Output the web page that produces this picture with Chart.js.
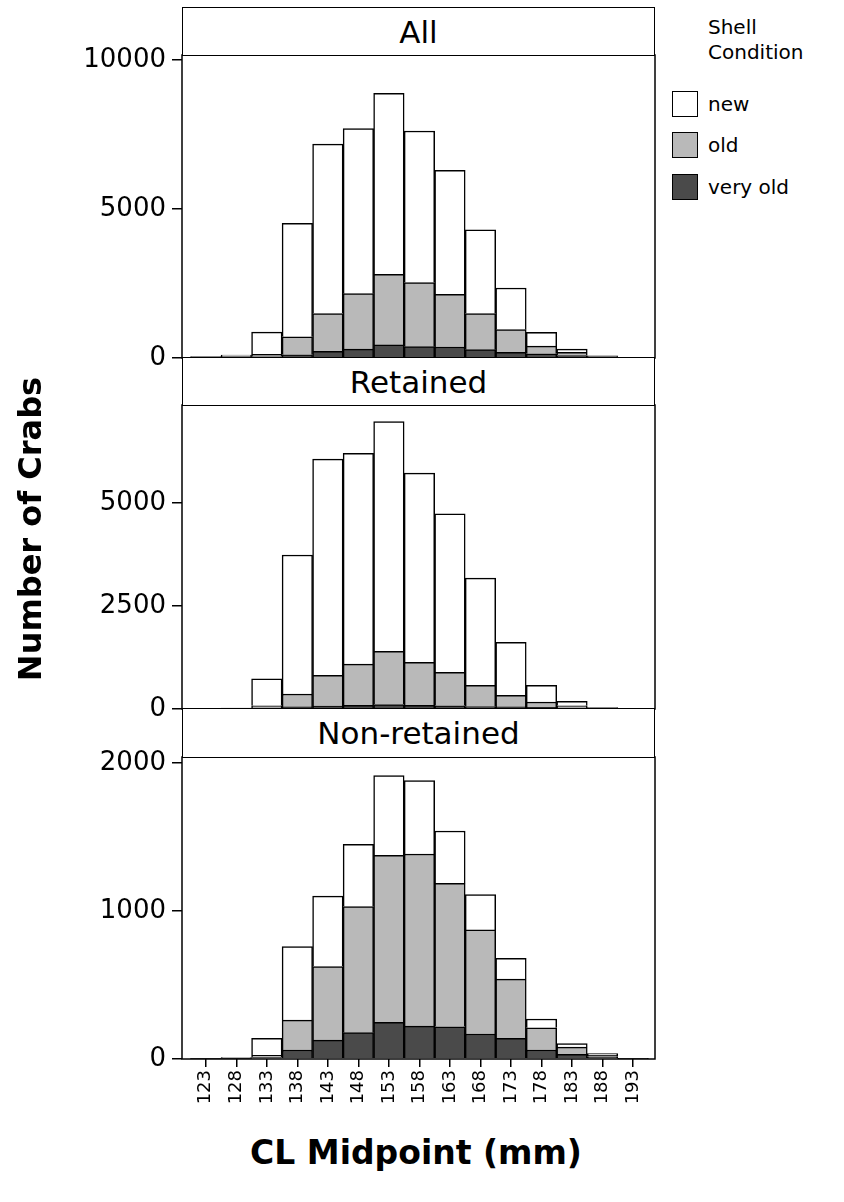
<!DOCTYPE html>
<html>
<head>
<meta charset="utf-8">
<script src="https://cdn.jsdelivr.net/npm/chart.js@4.4.1/dist/chart.umd.min.js"></script>
<style>
  body { margin: 0; background: #fff; }
  #page { position: relative; width: 844px; height: 1202px; overflow: hidden; font-family: "DejaVu Sans", sans-serif; color: #000; }
  canvas { position: absolute; }
  .strip { position: absolute; left: 182px; width: 473px; box-sizing: border-box; border: 1.5px solid #000;
           background: #fff; display: flex; align-items: center; justify-content: center; font-size: 31px; z-index: 2; }
  .ytitle { position: absolute; left: 30px; top: 529px; transform: translate(-50%, -50%) rotate(-90deg);
            font-weight: bold; font-size: 32px; white-space: nowrap; }
  .xtitle { position: absolute; left: 416px; top: 1152px; transform: translate(-50%, -50%);
            font-weight: bold; font-size: 33px; white-space: nowrap; }
  .legend { position: absolute; left: 672px; top: 15px; font-size: 20px; }
  .legend .head { margin-left: 36px; height: 25px; line-height: 25px; }
  .legend .rows { margin-top: 18px; }
  .legend .row { display: flex; align-items: center; height: 41.5px; }
  .legend .box { width: 26px; height: 26px; border: 1.5px solid #000; box-sizing: border-box; margin-right: 10px; }
</style>
</head>
<body>
<div id="page">
  <div class="strip" style="top:7px;height:49px;">All</div>
  <div class="strip" style="top:357px;height:49px;">Retained</div>
  <div class="strip" style="top:708px;height:50px;">Non-retained</div>
  <canvas id="all" width="600" height="353" style="left:60px;top:30px;"></canvas>
  <canvas id="ret" width="600" height="354" style="left:60px;top:380px;"></canvas>
  <canvas id="non" width="600" height="388" style="left:60px;top:732px;"></canvas>
  <div class="ytitle">Number of Crabs</div>
  <div class="xtitle">CL Midpoint (mm)</div>
  <div class="legend" id="legend"></div>
</div>
<script>
// CL midpoint bins (mm)
const midpoints = [123, 128, 133, 138, 143, 148, 153, 158, 163, 168, 173, 178, 183, 188, 193];

// All
const allNew     = [30, 40, 750, 3810, 5690, 5540, 6070, 5090, 4160, 2810, 1400, 460, 110, 20, 5];
const allOld     = [10, 30, 80, 600, 1270, 1860, 2370, 2150, 1770, 1210, 760, 260, 110, 20, 5];
const allVeryOld = [10, 30, 40, 110, 220, 300, 440, 380, 370, 280, 190, 140, 80, 30, 10];

// Retained
const retNew     = [5, 15, 650, 3375, 5250, 5120, 5580, 4595, 3850, 2605, 1290, 405, 105, 20, 5];
const retOld     = [3, 5, 60, 315, 750, 1000, 1290, 1045, 810, 515, 280, 130, 60, 10, 3];
const retVeryOld = [2, 5, 20, 50, 70, 90, 110, 90, 80, 60, 50, 40, 20, 5, 2];

// Non-retained
const nonNew     = [1, 3, 114, 497, 475, 420, 540, 495, 354, 238, 140, 59, 25, 11, 2];
const nonOld     = [1, 4, 15, 202, 497, 852, 1128, 1163, 968, 703, 401, 150, 49, 10, 1];
const nonVeryOld = [1, 3, 10, 61, 128, 178, 247, 222, 218, 169, 139, 61, 31, 15, 2];

const yTicksAll = [0, 5000, 10000];
const yTicksRet = [0, 2500, 5000];
const yTicksNon = [0, 1000, 2000];
const yMaxAll = 10170;
const yMaxRet = 7385;
const yMaxNon = 2040;

const conditions = ['new', 'old', 'very old'];
const fills = { 'new': '#ffffff', 'old': '#b9b9b9', 'very old': '#4a4a4a' };

const framePlugin = {
  id: 'frame',
  afterDatasetsDraw(chart) {
    const { ctx, chartArea: a } = chart;
    ctx.save();
    ctx.strokeStyle = '#000';
    ctx.lineWidth = 1.5;
    ctx.strokeRect(a.left, a.top, a.right - a.left, a.bottom - a.top);
    ctx.restore();
  }
};

const createPanel = (id, newVals, oldVals, veryOldVals, yTicks, yMax, showX) => {
  const ds = (label, data) => ({
    label: label,
    data: data,
    backgroundColor: fills[label],
    borderColor: '#000',
    borderWidth: 1.5,
    barPercentage: 1,
    categoryPercentage: 1
  });
  new Chart(document.getElementById(id), {
    type: 'bar',
    data: {
      labels: midpoints,
      datasets: [ds('very old', veryOldVals), ds('old', oldVals), ds('new', newVals)]
    },
    options: {
      responsive: false,
      animation: false,
      events: [],
      layout: { padding: { top: 25, right: 5, bottom: showX ? 0 : 25, left: 0 } },
      plugins: { legend: { display: false }, tooltip: { enabled: false } },
      scales: {
        x: {
          type: 'linear',
          min: 119.1,
          max: 196.6,
          offset: false,
          stacked: true,
          display: showX,
          afterBuildTicks: (s) => { s.ticks = midpoints.map(v => ({ value: v })); },
          afterFit: (s) => { if (showX) s.height = 61; },
          border: { display: false },
          grid: { offset: false, drawOnChartArea: false, color: '#000', lineWidth: 1.5, tickLength: 8 },
          ticks: { minRotation: 90, maxRotation: 90, padding: 3, color: '#000',
                   font: { family: 'DejaVu Sans', size: 18 } }
        },
        y: {
          stacked: true,
          min: 0,
          max: yMax,
          afterBuildTicks: (s) => { s.ticks = yTicks.map(v => ({ value: v })); },
          afterFit: (s) => { s.width = 122; },
          border: { display: false },
          grid: { drawOnChartArea: false, color: '#000', lineWidth: 1.5, tickLength: 10 },
          ticks: { padding: 6, color: '#000', font: { family: 'DejaVu Sans', size: 26 },
                   callback: (v) => String(v) }
        }
      }
    },
    plugins: [framePlugin]
  });
};

createPanel('all', allNew, allOld, allVeryOld, yTicksAll, yMaxAll, false);
createPanel('ret', retNew, retOld, retVeryOld, yTicksRet, yMaxRet, false);
createPanel('non', nonNew, nonOld, nonVeryOld, yTicksNon, yMaxNon, true);

// legend
let html = '<div class="head">Shell</div><div class="head">Condition</div><div class="rows">';
conditions.forEach(c => {
  html += '<div class="row"><div class="box" style="background:' + fills[c] + '"></div><span>' + c + '</span></div>';
});
html += '</div>';
document.getElementById('legend').innerHTML = html;
</script>
</body>
</html>
